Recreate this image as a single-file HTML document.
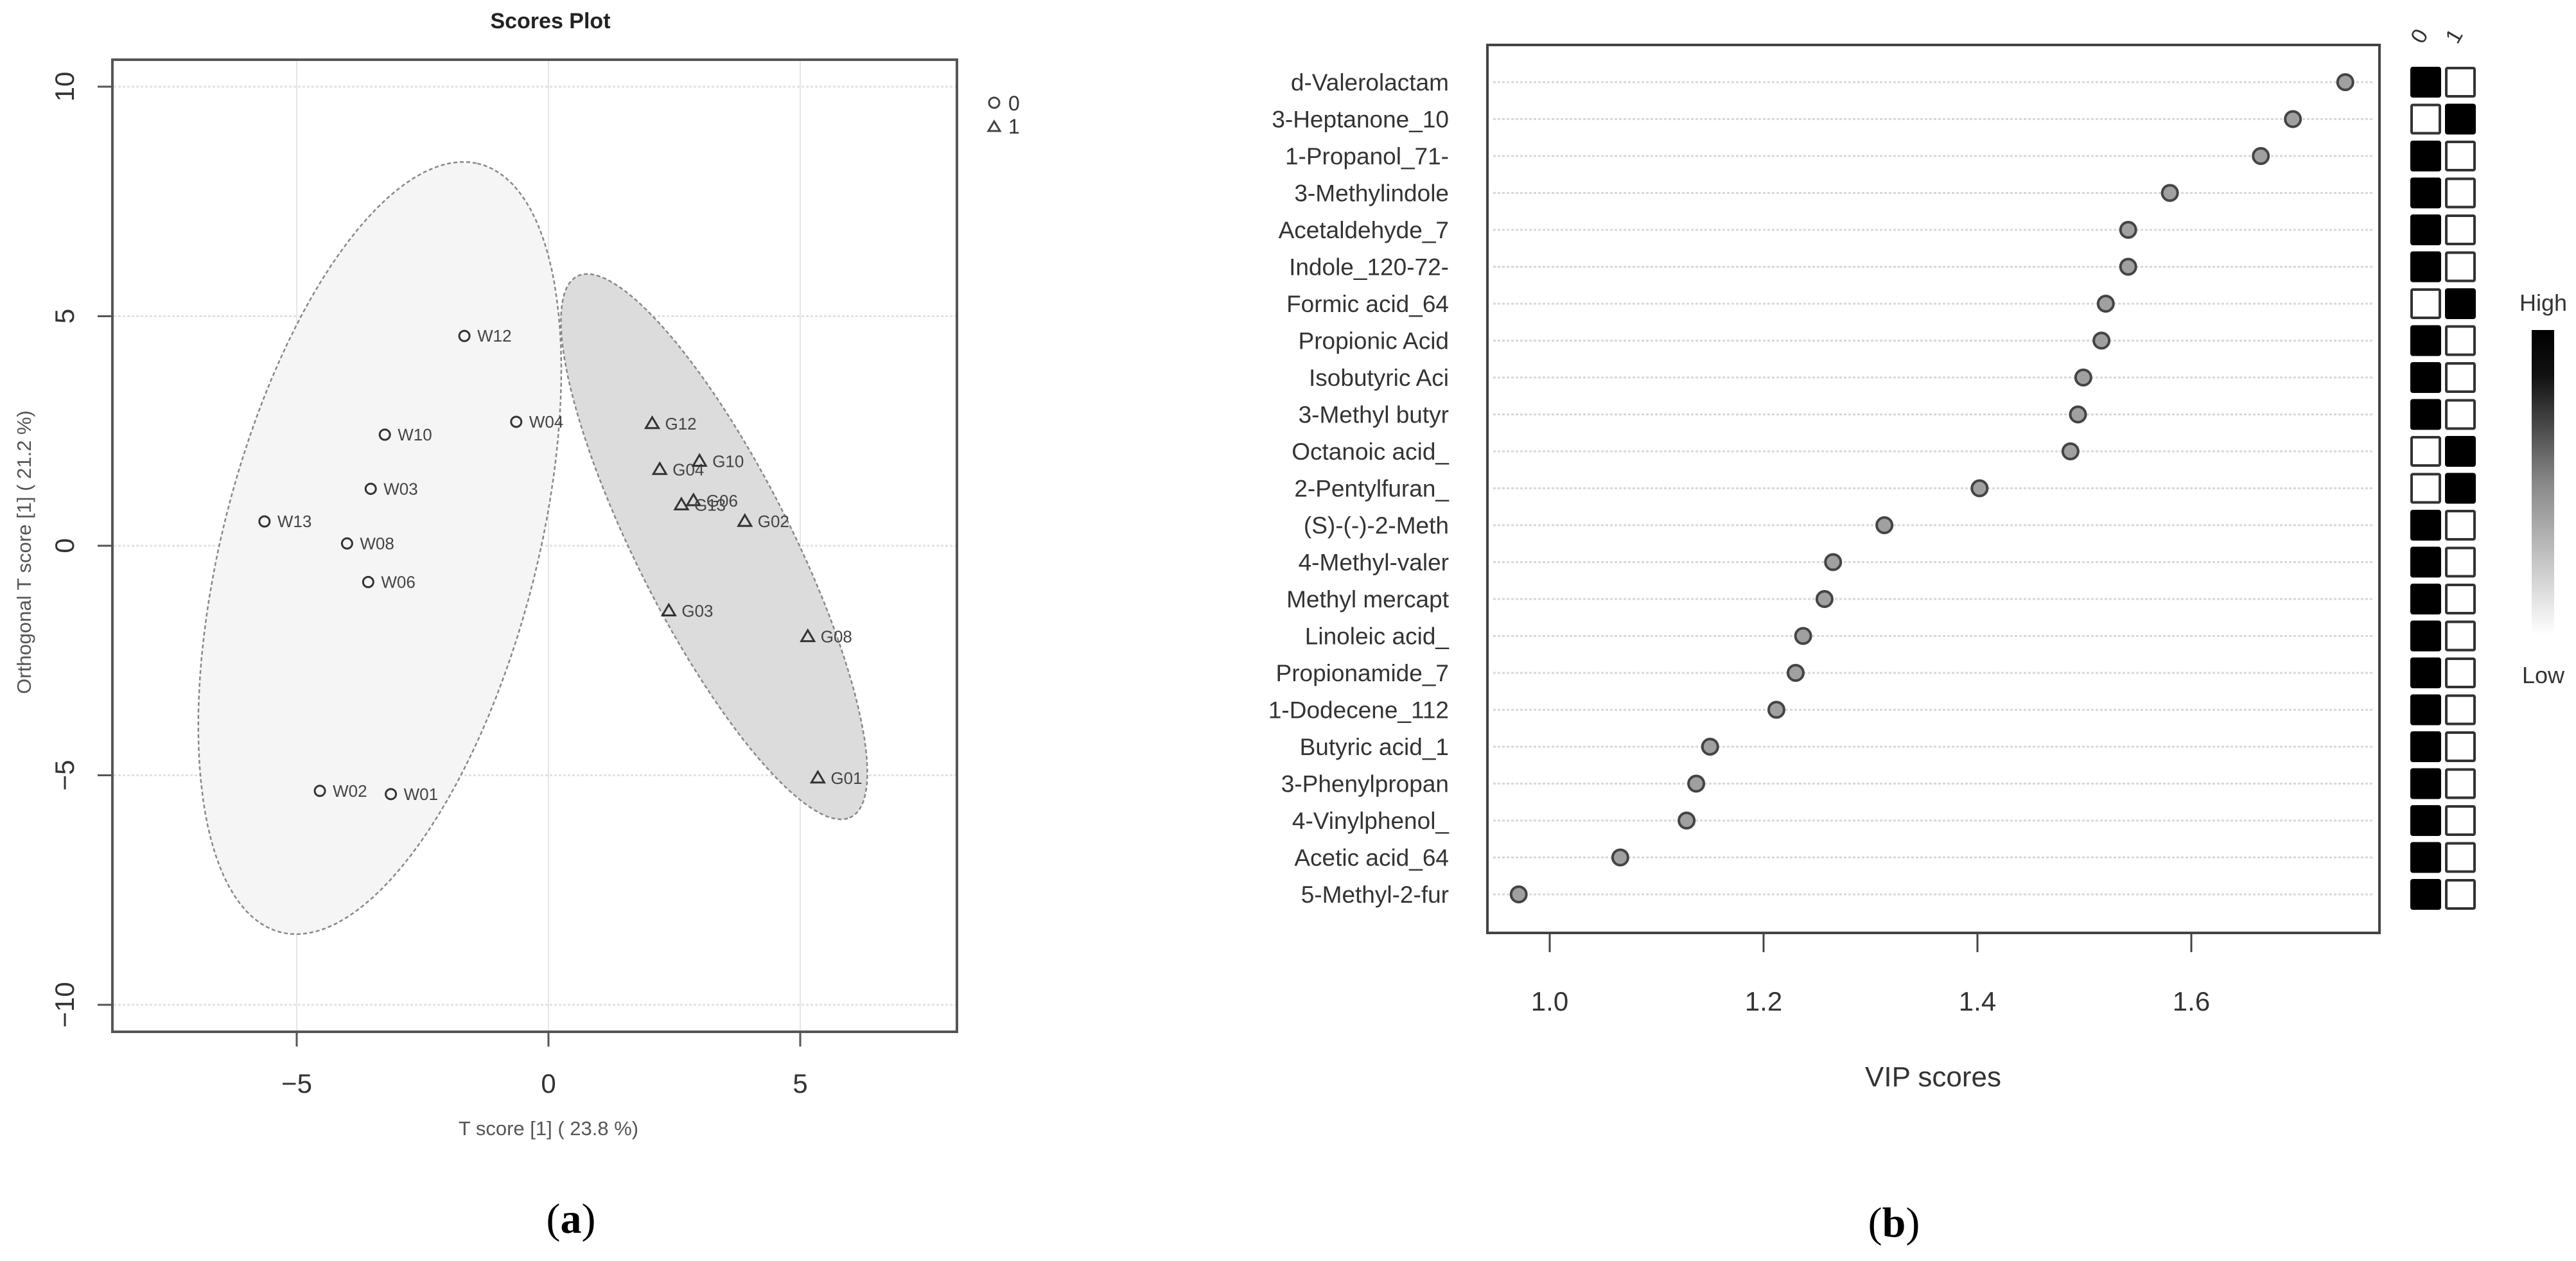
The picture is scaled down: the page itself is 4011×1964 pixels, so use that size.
<!DOCTYPE html>
<html><head><meta charset="utf-8"><style>
html,body{margin:0;padding:0;background:#fff;}
svg{display:block;font-family:"Liberation Sans",sans-serif;}
</style></head><body>
<svg id="fig" width="4011" height="1964" viewBox="0 0 4011 1964" xmlns="http://www.w3.org/2000/svg">
<rect x="0" y="0" width="4011" height="1964" fill="#fff"/>
<g id="left">
<text x="857" y="44" text-anchor="middle" font-size="34" font-weight="bold" fill="#222">Scores Plot</text>
<g id="lgrid"></g>
<g id="lell"></g>
<g id="lpts"></g>
<rect x="175" y="93" width="1315" height="1514" fill="none" stroke="#555" stroke-width="4"/>
<g id="laxes"></g>
<text x="854" y="1768" text-anchor="middle" font-size="31" fill="#555">T score [1] ( 23.8 %)</text>
<text transform="translate(48,860) rotate(-90)" text-anchor="middle" font-size="31" fill="#555">Orthogonal T score [1] ( 21.2 %)</text>
<g>
<circle cx="1548" cy="160" r="8" fill="none" stroke="#444" stroke-width="3"/>
<text x="1570" y="172" font-size="32" fill="#333">0</text>
<path d="M1539,204 L1557,204 L1548,189 Z" fill="none" stroke="#444" stroke-width="3"/>
<text x="1570" y="208" font-size="32" fill="#333">1</text>
</g>
<text x="889" y="1920" text-anchor="middle" font-size="66" font-family="Liberation Serif,serif" fill="#000">(<tspan font-weight="bold">a</tspan>)</text>
</g>
<g id="right">
<g id="rgrid"></g>
<g id="rpts"></g>
<rect x="2316" y="70" width="1389" height="1383" fill="none" stroke="#444" stroke-width="4"/>
<g id="raxes"></g>
<g id="rheat"></g>
<text x="3010" y="1692" text-anchor="middle" font-size="44" fill="#333">VIP scores</text>
<defs><linearGradient id="cg" x1="0" y1="0" x2="0" y2="1"><stop offset="0" stop-color="#000"/><stop offset="0.15" stop-color="#111"/><stop offset="0.5" stop-color="#888"/><stop offset="1" stop-color="#fff"/></linearGradient></defs>
<rect x="3942" y="514" width="35" height="475" fill="url(#cg)"/>
<text x="3960" y="484" text-anchor="middle" font-size="36" fill="#333">High</text>
<text x="3960" y="1064" text-anchor="middle" font-size="36" fill="#333">Low</text>
<text x="2949" y="1926" text-anchor="middle" font-size="66" font-family="Liberation Serif,serif" fill="#000">(<tspan font-weight="bold">b</tspan>)</text>
</g>
</svg>
<script>
// ---------- Scores plot data ----------
const sampleNames = ["W12","W04","W10","W03","W13","W08","W06","W02","W01","G12","G04","G10","G06","G13","G02","G03","G08","G01"];
const sampleGroup = [0,0,0,0,0,0,0,0,0,1,1,1,1,1,1,1,1,1];
const tScores = [-1.67,-0.64,-3.25,-3.53,-5.64,-4.0,-3.58,-4.54,-3.13,2.06,2.21,3.0,2.88,2.64,3.9,2.39,5.15,5.35];
const orthoScores = [4.57,2.70,2.42,1.24,0.53,0.05,-0.79,-5.34,-5.41,2.66,1.66,1.84,0.98,0.89,0.53,-1.42,-1.98,-5.06];
const xTicks = [-5,0,5];
const yTicks = [-10,-5,0,5,10];
// ellipse params per group: centre x, centre y, semi-major, semi-minor, angle (deg)
const ellCx = [-3.35, 3.29];
const ellCy = [-0.05, -0.02];
const ellA = [8.6, 6.49];
const ellB = [3.13, 1.56];
const ellAng = [77.1, -65.5];

// ---------- VIP data ----------
const features = ["d-Valerolactam","3-Heptanone_10","1-Propanol_71-","3-Methylindole","Acetaldehyde_7","Indole_120-72-","Formic acid_64","Propionic Acid","Isobutyric Aci","3-Methyl butyr","Octanoic acid_","2-Pentylfuran_","(S)-(-)-2-Meth","4-Methyl-valer","Methyl mercapt","Linoleic acid_","Propionamide_7","1-Dodecene_112","Butyric acid_1","3-Phenylpropan","4-Vinylphenol_","Acetic acid_64","5-Methyl-2-fur"];
const vipScores = [1.744,1.695,1.665,1.580,1.541,1.541,1.520,1.516,1.499,1.494,1.487,1.402,1.313,1.265,1.257,1.237,1.230,1.212,1.150,1.137,1.128,1.066,0.971];
const highGroup0 = [1,0,1,1,1,1,0,1,1,1,0,0,1,1,1,1,1,1,1,1,1,1,1];
const vipTicks = [1.0,1.2,1.4,1.6];
const heatGroups = ["0","1"];

const NS="http://www.w3.org/2000/svg";
function mk(tag, attrs, parent){const e=document.createElementNS(NS,tag);for(const k in attrs)e.setAttribute(k,attrs[k]);parent.appendChild(e);return e;}
const sx = v => 854 + v*78.4;
const sy = v => 850 - v*71.5;

const lgrid=document.getElementById('lgrid'), lell=document.getElementById('lell'), lpts=document.getElementById('lpts'), laxes=document.getElementById('laxes');
xTicks.forEach(t=>{
  const g=mk('line',{x1:sx(t),x2:sx(t),y1:95,y2:1605,stroke:'#e6e6e6','stroke-width':2},lgrid);
  
  
  const tk=mk('line',{x1:sx(t),x2:sx(t),y1:1607,y2:1630,stroke:'#555','stroke-width':3},laxes);
  
  
  const tl=mk('text',{x:sx(t),y:1702,'text-anchor':'middle','font-size':42,fill:'#333'},laxes);
  tl.textContent = t<0?('\u2212'+Math.abs(t)):String(t);
  
  
});
yTicks.forEach(t=>{
  const g=mk('line',{x1:177,x2:1488,y1:sy(t),y2:sy(t),stroke:'#e2e2e2','stroke-width':3,'stroke-dasharray':'4 3'},lgrid);
  
  
  const tk=mk('line',{x1:152,x2:175,y1:sy(t),y2:sy(t),stroke:'#555','stroke-width':3},laxes);
  
  
  const tl=mk('text',{transform:`translate(115,${sy(t)}) rotate(-90)`,'text-anchor':'middle','font-size':42,fill:'#333'},laxes);
  tl.textContent = t<0?('\u2212'+Math.abs(t)):String(t);
  
  
});
const ellFill=['#f5f5f5','#dcdcdc'];
for(let i=0;i<ellCx.length;i++){
  const th=ellAng[i]*Math.PI/180; let d='';
  for(let k=0;k<=120;k++){const p=k/120*2*Math.PI;
    const x=ellCx[i]+ellA[i]*Math.cos(th)*Math.cos(p)-ellB[i]*Math.sin(th)*Math.sin(p);
    const y=ellCy[i]+ellA[i]*Math.sin(th)*Math.cos(p)+ellB[i]*Math.cos(th)*Math.sin(p);
    d+=(k?'L':'M')+sx(x).toFixed(1)+','+sy(y).toFixed(1);}
  const e=mk('path',{d:d+'Z',fill:ellFill[i],stroke:'#888','stroke-width':2.5,'stroke-dasharray':'6 4'},lell);
  
  
}
sampleNames.forEach((n,i)=>{
  const x=sx(tScores[i]), y=sy(orthoScores[i]);
  let m;
  if(sampleGroup[i]===0){ m=mk('circle',{cx:x,cy:y,r:8,fill:'none',stroke:'#333','stroke-width':3},lpts); }
  else { m=mk('path',{d:`M${x-10},${y+7} L${x+10},${y+7} L${x},${y-10} Z`,fill:'none',stroke:'#333','stroke-width':3},lpts); }
  
  
  const t=mk('text',{x:x+20,y:y+9,'font-size':26,fill:'#444'},lpts);
  t.textContent=n;
  
  
});

// ---------- VIP ----------
const vx = v => 2413 + (v-1.0)*1665;
const vy = i => 128 + i*57.5;
const rgrid=document.getElementById('rgrid'), rpts=document.getElementById('rpts'), raxes=document.getElementById('raxes'), rheat=document.getElementById('rheat');
features.forEach((f,i)=>{
  const g=mk('line',{x1:2325,x2:3695,y1:vy(i),y2:vy(i),stroke:'#d8d8d8','stroke-width':3,'stroke-dasharray':'4 3'},rgrid);
  
  
  const t=mk('text',{x:2256,y:vy(i)+13,'text-anchor':'end','font-size':37,fill:'#333'},raxes);
  t.textContent=f;
  
  
  const c=mk('circle',{cx:vx(vipScores[i]),cy:vy(i),r:12,fill:'#a0a0a0',stroke:'#444','stroke-width':4},rpts);
  
  
  for(let j=0;j<2;j++){
    const dark = (j===0)?highGroup0[i]===1:highGroup0[i]===0;
    const s=mk('rect',{x:3755+j*54,y:vy(i)-22,width:44,height:44,fill:dark?'#000':'#fff',stroke:dark?'#000':'#333','stroke-width':4,rx:2},rheat);
    
    
  }
});
heatGroups.forEach((g,j)=>{
  const t=mk('text',{transform:`translate(${3777+j*54},62) rotate(-60)`,'text-anchor':'middle','font-size':34,fill:'#333'},rheat);
  t.textContent=g;
  
  
});
vipTicks.forEach(v=>{
  const tk=mk('line',{x1:vx(v),x2:vx(v),y1:1453,y2:1483,stroke:'#444','stroke-width':3},raxes);
  
  
  const tl=mk('text',{x:vx(v),y:1574,'text-anchor':'middle','font-size':42,fill:'#333'},raxes);
  tl.textContent=v.toFixed(1);
  
  
});
</script>
</body></html>
